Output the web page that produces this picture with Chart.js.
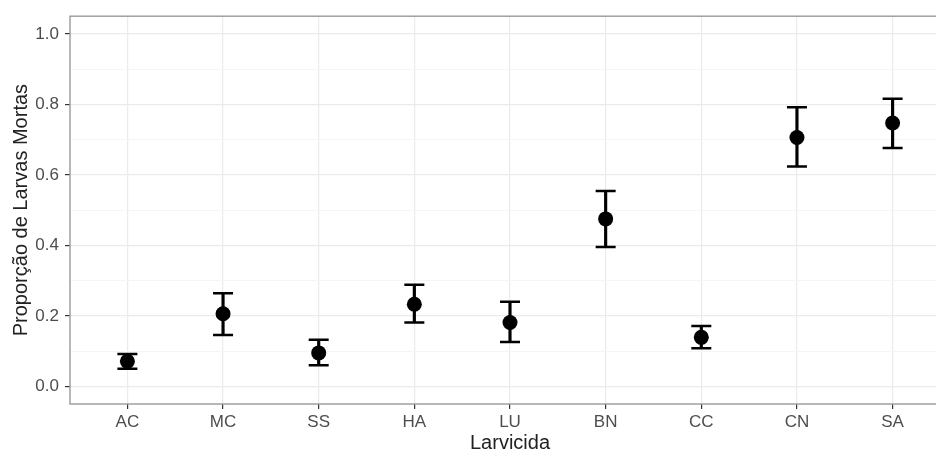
<!DOCTYPE html>
<html>
<head>
<meta charset="utf-8">
<script src="https://cdn.jsdelivr.net/npm/chart.js@4.4.0/dist/chart.umd.min.js"></script>
<style>
  html, body { margin: 0; padding: 0; background: #fff; overflow: hidden; }
  #quadro { width: 936px; height: 452px; overflow: hidden; }
</style>
</head>
<body>
<div id="quadro"><canvas id="chart" width="950" height="452"></canvas></div>
<script>
// dados
const larvicidas = ['AC', 'MC', 'SS', 'HA', 'LU', 'BN', 'CC', 'CN', 'SA'];
const proporcao = [0.071, 0.206, 0.095, 0.233, 0.181, 0.475, 0.139, 0.706, 0.747];
const limInferior = [0.050, 0.146, 0.060, 0.181, 0.126, 0.395, 0.108, 0.624, 0.676];
const limSuperior = [0.092, 0.264, 0.132, 0.288, 0.240, 0.554, 0.171, 0.792, 0.816];
const yTicks = [0, 0.2, 0.4, 0.6, 0.8, 1.0];
const yMinor = [0.1, 0.3, 0.5, 0.7, 0.9];

const FONTE = "'Liberation Sans', Arial, sans-serif";
const isMajor = v => yTicks.some(t => Math.abs(t - v) < 1e-6);

// borda do painel (estilo theme_bw); o lado direito fica fora do quadro
const bordaPainel = {
    id: 'bordaPainel',
    afterDraw(chart) {
        const a = chart.chartArea;
        const ctx = chart.ctx;
        ctx.save();
        ctx.strokeStyle = '#9a9a9a';
        ctx.lineWidth = 1.4;
        ctx.strokeRect(a.left, a.top, a.right - a.left, a.bottom - a.top);
        ctx.restore();
    }
};

new Chart(document.getElementById('chart').getContext('2d'), {
    data: {
        datasets: [
            {
                type: 'bar',
                data: larvicidas.map((l, i) => ({ x: i, y: [limInferior[i], limSuperior[i]] })),
                backgroundColor: '#000',
                barThickness: 2.5,
                order: 3
            },
            {
                type: 'scatter',
                data: larvicidas.map((l, i) => ({ x: i, y: limInferior[i] }))
                    .concat(larvicidas.map((l, i) => ({ x: i, y: limSuperior[i] }))),
                pointStyle: 'line',
                radius: 10,
                borderColor: '#000',
                borderWidth: 2.5,
                order: 2
            },
            {
                type: 'scatter',
                data: larvicidas.map((l, i) => ({ x: i, y: proporcao[i] })),
                pointStyle: 'circle',
                radius: 7.5,
                backgroundColor: '#000',
                borderColor: '#000',
                borderWidth: 0,
                order: 1
            }
        ]
    },
    options: {
        responsive: false,
        animation: false,
        layout: { autoPadding: false, padding: { top: 14, right: 0, left: 0, bottom: 0 } },
        plugins: { legend: { display: false }, tooltip: { enabled: false } },
        scales: {
            x: {
                type: 'linear',
                min: -0.6,
                max: 8.6,
                offset: false,
                afterBuildTicks: s => { s.ticks = larvicidas.map((l, i) => ({ value: i })); },
                afterFit: s => { s.height = 48; s.paddingLeft = 0; s.paddingRight = 0; },
                grid: { offset: false, color: '#ebebeb', lineWidth: 1.2, tickLength: 5, tickColor: '#333', tickWidth: 1.2 },
                border: { display: false },
                ticks: {
                    callback: v => larvicidas[v],
                    color: '#4d4d4d',
                    font: { family: FONTE, size: 17 },
                    padding: 3,
                    maxRotation: 0,
                    autoSkip: false
                },
                title: {
                    display: true,
                    text: 'Larvicida',
                    color: '#222',
                    font: { family: FONTE, size: 20 },
                    padding: { top: 4, bottom: -3 }
                }
            },
            y: {
                type: 'linear',
                min: -0.05,
                max: 1.05,
                afterBuildTicks: s => {
                    s.ticks = yTicks.concat(yMinor).sort((a, b) => a - b).map(v => ({ value: v }));
                },
                afterFit: s => { s.width = 70; },
                grid: {
                    color: c => isMajor(c.tick.value) ? '#ebebeb' : '#f5f5f5',
                    lineWidth: c => isMajor(c.tick.value) ? 1.2 : 1,
                    tickLength: 5,
                    tickColor: c => isMajor(c.tick.value) ? '#333' : 'rgba(0,0,0,0)',
                    tickWidth: 1.2
                },
                border: { display: false },
                ticks: {
                    callback: v => isMajor(v) ? v.toFixed(1) : '',
                    color: '#4d4d4d',
                    font: { family: FONTE, size: 17 },
                    padding: 6,
                    autoSkip: false
                },
                title: {
                    display: true,
                    text: 'Proporção de Larvas Mortas',
                    color: '#222',
                    font: { family: FONTE, size: 20 },
                    padding: { top: 9, bottom: 0 }
                }
            }
        }
    },
    plugins: [bordaPainel]
});
</script>
</body>
</html>
